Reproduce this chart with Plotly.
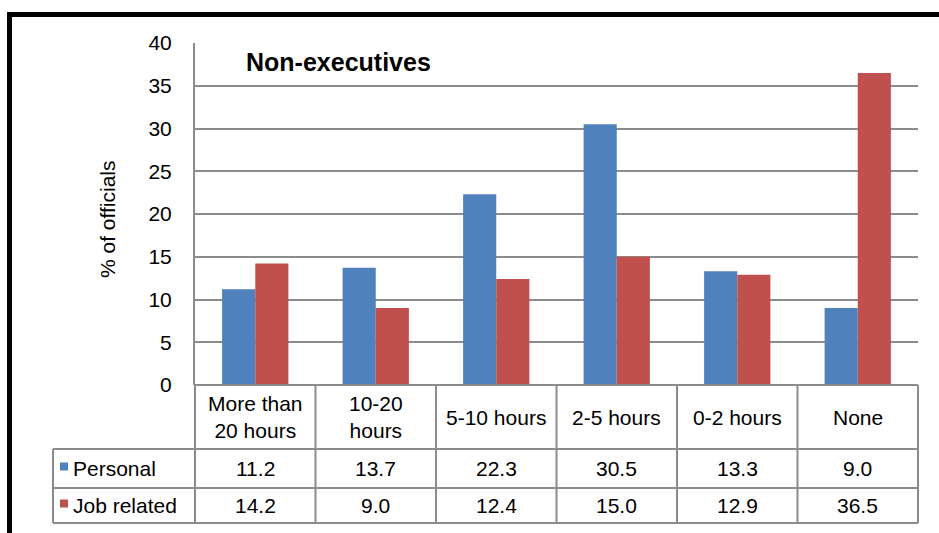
import plotly.graph_objects as go

# ---- data -------------------------------------------------------------
categories = ["More than 20 hours", "10-20 hours", "5-10 hours",
              "2-5 hours", "0-2 hours", "None"]
category_labels = ["More than<br>20 hours", "10-20<br>hours", "5-10 hours",
                   "2-5 hours", "0-2 hours", "None"]
personal = [11.2, 13.7, 22.3, 30.5, 13.3, 9.0]
job_related = [14.2, 9.0, 12.4, 15.0, 12.9, 36.5]
series_names = ["Personal", "Job related"]
y_ticks = [0, 5, 10, 15, 20, 25, 30, 35, 40]

# ---- styling / geometry ------------------------------------------------
W, H = 939, 533
PLOT_L, PLOT_R, PLOT_T, PLOT_B = 195, 918, 43, 385
COLORS = ["#4F81BD", "#C0504D"]
GRID = "#8c8c8c"
FONT = "Arial, Liberation Sans, sans-serif"
FS = 21


def px_x(px):
    return (px - PLOT_L) / (PLOT_R - PLOT_L)


def px_y(py):
    return (PLOT_B - py) / (PLOT_B - PLOT_T)


fig = go.Figure()
for name, vals, col in zip(series_names, [personal, job_related], COLORS):
    fig.add_trace(go.Bar(x=categories, y=vals, name=name,
                         marker=dict(color=col, line=dict(width=0)),
                         showlegend=False))

shapes = []
annotations = []

# outer black frame (runs off the right and bottom edges)
shapes.append(dict(type="rect", xref="paper", yref="paper",
                   x0=px_x(9.5), x1=px_x(980), y0=px_y(600), y1=px_y(14.5),
                   line=dict(color="black", width=5), layer="below"))

# data table below the plot
n = len(categories)
row_cat_bottom, row1_bottom, row2_bottom = 449, 488, 523
legend_left = 53
line_style = dict(color=GRID, width=2)
# horizontal lines
shapes.append(dict(type="line", xref="paper", yref="paper", x0=0, x1=1,
                   y0=px_y(PLOT_B), y1=px_y(PLOT_B), line=line_style))
for yy in (row_cat_bottom, row1_bottom, row2_bottom):
    shapes.append(dict(type="line", xref="paper", yref="paper",
                       x0=px_x(legend_left), x1=1, y0=px_y(yy), y1=px_y(yy),
                       line=line_style))
# vertical lines
for k in range(n + 1):
    shapes.append(dict(type="line", xref="paper", yref="paper",
                       x0=k / n, x1=k / n, y0=px_y(PLOT_B), y1=px_y(row2_bottom),
                       line=line_style))
shapes.append(dict(type="line", xref="paper", yref="paper",
                   x0=px_x(legend_left), x1=px_x(legend_left),
                   y0=px_y(row_cat_bottom), y1=px_y(row2_bottom), line=line_style))

# category header cells
for cat, lab in zip(categories, category_labels):
    annotations.append(dict(x=cat, xref="x", y=px_y((PLOT_B + row_cat_bottom) / 2),
                            yref="paper", text=lab, showarrow=False,
                            xanchor="center", yanchor="middle",
                            font=dict(size=FS, family=FONT, color="black")))

# value rows with legend keys
row_centers = [(row_cat_bottom + row1_bottom) / 2, (row1_bottom + row2_bottom) / 2]
for name, vals, col, yc in zip(series_names, [personal, job_related], COLORS, row_centers):
    shapes.append(dict(type="rect", xref="paper", yref="paper",
                       x0=px_x(60), x1=px_x(68), y0=px_y(yc - 6), y1=px_y(yc + 2),
                       fillcolor=col, line=dict(width=0)))
    annotations.append(dict(x=px_x(71), xref="paper", y=px_y(yc), yref="paper",
                            text=name, showarrow=False, xanchor="left",
                            yanchor="middle",
                            font=dict(size=FS, family=FONT, color="black")))
    for cat, v in zip(categories, vals):
        annotations.append(dict(x=cat, xref="x", y=px_y(yc), yref="paper",
                                text=f"{v:.1f}", showarrow=False,
                                xanchor="center", yanchor="middle",
                                font=dict(size=FS, family=FONT, color="black")))

# chart title inside the plot area
annotations.append(dict(x=px_x(244), xref="paper", y=px_y(62), yref="paper",
                        text="<b>Non-executives</b>", showarrow=False,
                        xanchor="left", yanchor="middle",
                        font=dict(size=25, family=FONT, color="black")))

# y-axis title
annotations.append(dict(x=px_x(107), xref="paper", y=px_y(219), yref="paper",
                        text="% of officials", showarrow=False, textangle=-90,
                        xanchor="center", yanchor="middle",
                        font=dict(size=FS, family=FONT, color="black")))

fig.update_layout(
    width=W, height=H,
    margin=dict(l=PLOT_L, r=W - PLOT_R, t=PLOT_T, b=H - PLOT_B, pad=0),
    paper_bgcolor="white", plot_bgcolor="white",
    barmode="group", bargap=0.45, bargroupgap=0,
    font=dict(family=FONT, size=FS, color="black"),
    shapes=shapes, annotations=annotations,
    xaxis=dict(type="category", range=[-0.5, n - 0.5], showticklabels=False,
               showgrid=False, zeroline=False, showline=False, ticks=""),
    yaxis=dict(range=[0, 40], tickvals=y_ticks, showgrid=True, gridcolor=GRID,
               gridwidth=2, zeroline=True, zerolinecolor=GRID, zerolinewidth=2,
               showline=True, linecolor=GRID, linewidth=2,
               ticks="outside", ticklen=17, tickcolor="rgba(0,0,0,0)",
               tickfont=dict(size=FS, family=FONT, color="black")),
)

fig.write_html("out.html")
